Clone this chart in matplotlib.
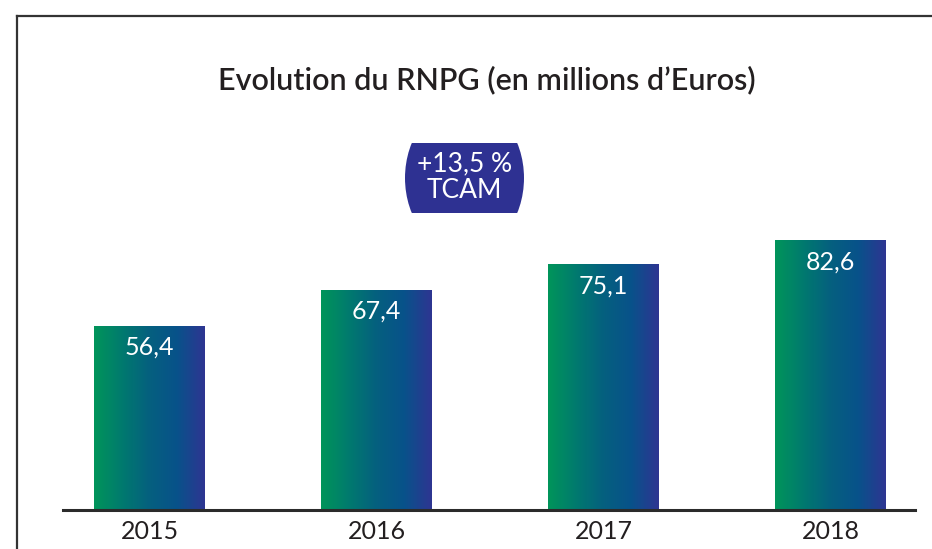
import numpy as np
import matplotlib
matplotlib.use("Agg")
import matplotlib.pyplot as plt
from matplotlib.colors import LinearSegmentedColormap
from matplotlib.patches import Ellipse, Rectangle

# données
annees = ['2015', '2016', '2017', '2018']
rnpg = [56.4, 67.4, 75.1, 82.6]
etiquettes = ['56,4', '67,4', '75,1', '82,6']
titre = "Evolution du RNPG (en millions d\u2019Euros)"
badge_txt = "+13,5 %\nTCAM"

plt.rcParams['font.family'] = ['Lato', 'DejaVu Sans']

W, H = 932, 549
fig = plt.figure(figsize=(W / 100, H / 100), dpi=100)

# calque en pixels pour le cadre, le titre et le badge
over = fig.add_axes([0, 0, 1, 1])
over.set_xlim(0, W)
over.set_ylim(H, 0)
over.axis('off')
over.plot([17, W], [16, 16], color='#333333', lw=1.6)
over.plot([17, 17], [16, H], color='#333333', lw=1.6)
over.text(487, 80, titre, ha='center', va='center', fontsize=22,
          fontweight='semibold', color='#231f20')

badge_col = '#2e3192'
clip = Rectangle((400, 143), 130, 70, transform=over.transData)
ell = Ellipse((464.5, 178), 119, 151, facecolor=badge_col, edgecolor='none')
over.add_patch(ell)
ell.set_clip_path(clip)
over.text(464.5, 177, badge_txt, ha='center', va='center', fontsize=19,
          color='white', linespacing=1.05)

# graphique
ax = fig.add_axes([63 / W, 39 / H, (915 - 63) / W, (510 - 100) / H])
ax.set_facecolor('none')
for s in ['top', 'right', 'left']:
    ax.spines[s].set_visible(False)
ax.spines['bottom'].set_color('#2b2b2b')
ax.spines['bottom'].set_linewidth(2.2)
ax.set_yticks([])
x = np.arange(len(annees))
ax.set_xticks(x)
ax.set_xticklabels(annees, fontsize=18, color='#231f20')
ax.tick_params(axis='x', length=0, pad=7)

cmap = LinearSegmentedColormap.from_list(
    'rnpg', ['#00955a', '#007a6e', '#05607f', '#08528a', '#2e3592'])
grad = np.linspace(0, 1, 256).reshape(1, -1)

largeur = 0.485
bars = ax.bar(x, rnpg, width=largeur, color='none', edgecolor='none')
for b, lab in zip(bars, etiquettes):
    x0, w, h = b.get_x(), b.get_width(), b.get_height()
    im = ax.imshow(grad, cmap=cmap, aspect='auto', extent=[x0, x0 + w, 0, h],
                   zorder=2, interpolation='bilinear')
    im.set_clip_path(b)
    ax.text(x0 + w / 2, h - 6.7, lab, ha='center', va='center', fontsize=18,
            color='white', fontweight='normal', zorder=3)

ax.set_xlim(-0.381, 3.372)
ax.set_ylim(0, 125.4)

fig.savefig('out.png', dpi=100)
